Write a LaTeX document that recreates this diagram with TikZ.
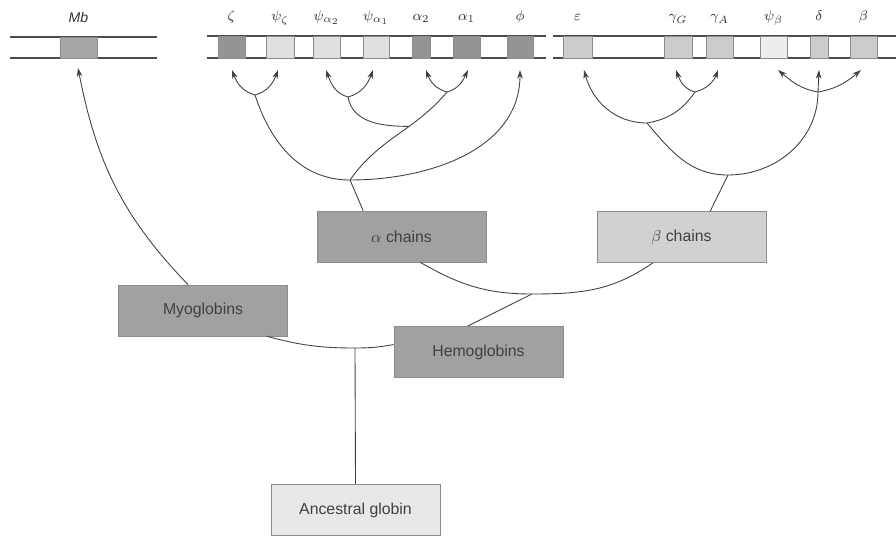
\documentclass[tikz,border=0pt]{standalone}
\usepackage{fontspec}
\setmainfont{Liberation Sans}
\usetikzlibrary{arrows.meta}
\definecolor{gdark}{gray}{0.58}
\definecolor{glight}{gray}{0.80}
\definecolor{gpseudo}{gray}{0.88}
\definecolor{gpale}{gray}{0.93}
\definecolor{gmb}{gray}{0.65}
\definecolor{boxdark}{gray}{0.63}
\definecolor{boxlight}{gray}{0.82}
\definecolor{boxpale}{gray}{0.91}

\begin{document}
\begin{tikzpicture}[x=0.02cm, y=-0.02cm,
    branch/.style={draw=black!75, line width=0.5pt},
    arr/.style={branch, -{Stealth[length=5pt,width=3.2pt]}},
    famBox/.style={draw=black!45, line width=0.4pt, minimum width=3.38cm,
        minimum height=1.02cm, inner sep=0pt, text=black!75,
        font=\fontsize{9}{11}\selectfont},
    geneLab/.style={anchor=base, font=\footnotesize, text=black!80}]
    \useasboundingbox (0,0) rectangle (896,537);
    % ミオグロビン遺伝子（Mb）
    \draw[black!70, line width=0.6pt] (10,37) -- (157,37) (10,58) -- (157,58);
    \filldraw[fill=gmb, draw=black!45, line width=0.4pt] (60,37) rectangle (97,58);
    \node[geneLab, font=\fontsize{8}{10}\selectfont\itshape] (mb-l) at (78.5,23) {Mb};
    \coordinate (mb) at (78,68);
    % α・β 遺伝子クラスター（染色体の帯）
    \draw[black!70, line width=0.6pt]
        (207,36) -- (546,36) (207,58) -- (546,58)
        (553,36) -- (896,36) (553,58) -- (896,58);
    % 各遺伝子のマスとラベル
    \foreach \xa/\xb/\tx/\col/\nm/\lab in {
            218/245/232/gdark/zeta/{$\zeta$},
            266/294/278/gpseudo/psizeta/{$\psi_\zeta$},
            313/340/326/gpseudo/psiatwo/{$\psi_{\alpha_2}$},
            363/389/373/gpseudo/psiaone/{$\psi_{\alpha_1}$},
            412/430/426/gdark/alphatwo/{$\alpha_2$},
            453/480/468/gdark/alphaone/{$\alpha_1$},
            507/533/520/gdark/phi/{$\phi$},
            563/592/584/glight/eps/{$\varepsilon$},
            664/692/676/glight/gammag/{$\gamma_G$},
            706/733/718/glight/gammaa/{$\gamma_A$},
            760/787/778/gpale/psib/{$\psi_\beta$},
            810/828/819/glight/delta/{$\delta$},
            850/877/861/glight/beta/{$\beta$}} {
        \filldraw[fill=\col, draw=black!45, line width=0.4pt] (\xa,36) rectangle (\xb,58);
        \node[geneLab] (\nm-l) at ({(\xa+\xb)/2},21) {\lab};
        \coordinate (\nm) at (\tx,70);
    }
    % グロビンのファミリー（箱）
    \node[famBox, fill=boxdark] (achains) at (401.5,236.5) {$\alpha$ chains};
    \node[famBox, fill=boxlight] (bchains) at (681.5,237) {$\beta$ chains};
    \node[famBox, fill=boxdark] (myo) at (203,310.5) {Myoglobins};
    \node[famBox, fill=boxdark] (hemo) at (478.5,352) {Hemoglobins};
    \node[famBox, fill=boxpale] (anc) at (355.5,510) {Ancestral globin};
    % 分岐点
    \coordinate (jglob) at (355,348);
    \coordinate (jhb) at (532,294);
    \coordinate (ja) at (350,180);
    \coordinate (jz) at (255,95);
    \coordinate (jpa) at (348,97);
    \coordinate (jaa) at (447,92);
    \coordinate (je) at (647,123);
    \coordinate (jg) at (695,92);
    \coordinate (jbc) at (728,175);
    \coordinate (jb) at (818,92);
    % 祖先グロビン → ミオグロビン / ヘモグロビン
    \draw[branch] (anc.north) -- (jglob);
    \draw[branch] (myo.-22) to[out=-15,in=180] (jglob) to[out=0,in=190] (hemo.175);
    \draw[arr] (myo.120) to[out=134,in=-79] (mb);
    % ヘモグロビン → α鎖 / β鎖
    \draw[branch] (hemo.113) -- (jhb);
    \draw[branch] (achains.-54) to[out=-30,in=180] (jhb) to[out=0,in=-145] (bchains.-138);
    % α鎖クラスター
    \draw[branch] (achains.146) -- (ja);
    \draw[branch] (jz) to[out=-72,in=180] (ja);
    \draw[arr] (ja) to[out=0,in=-90] (phi);
    \draw[branch] (ja) to[out=55,in=-130] coordinate[pos=0.62] (jm) (jaa);
    \draw[branch] (jpa) to[out=-80,in=180] (jm);
    \draw[arr] (jz) to[out=165,in=-70] (zeta);
    \draw[arr] (jz) to[out=15,in=-110] (psizeta);
    \draw[arr] (jpa) to[out=165,in=-70] (psiatwo);
    \draw[arr] (jpa) to[out=15,in=-110] (psiaone);
    \draw[arr] (jaa) to[out=165,in=-70] (alphatwo);
    \draw[arr] (jaa) to[out=15,in=-115] (alphaone);
    % β鎖クラスター
    \draw[branch] (bchains.42) -- (jbc);
    \draw[branch] (je) to[out=-50,in=180] (jbc) to[out=0,in=-90] (jb);
    \draw[arr] (je) to[out=180,in=-75] (eps);
    \draw[branch] (je) to[out=10,in=-125] (jg);
    \draw[arr] (jg) to[out=165,in=-70] (gammag);
    \draw[arr] (jg) to[out=15,in=-110] (gammaa);
    \draw[arr] (jb) to[out=170,in=-40] (psib);
    \draw[arr] (jb) -- (delta);
    \draw[arr] (jb) to[out=10,in=-140] (beta);
\end{tikzpicture}
\end{document}
